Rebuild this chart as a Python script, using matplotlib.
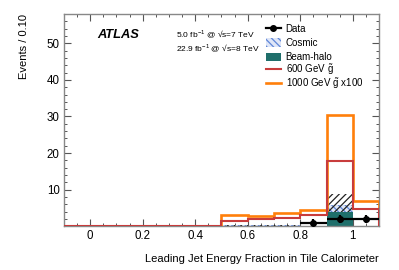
import numpy as np
import matplotlib
matplotlib.use("Agg")
import matplotlib.pyplot as plt
from matplotlib.ticker import MultipleLocator, FixedLocator
from matplotlib.patches import Patch
from matplotlib.lines import Line2D

plt.rcParams['font.family'] = ['Liberation Sans', 'DejaVu Sans']
plt.rcParams['hatch.linewidth'] = 0.9
plt.rcParams['mathtext.fontset'] = 'custom'
plt.rcParams['mathtext.rm'] = 'Liberation Sans'

edges = np.round(np.arange(-0.1, 1.1001, 0.1), 2)
gluino1000_x100 = [0, 0, 0, 0, 0, 0, 3.2, 2.7, 3.6, 4.5, 30.4, 7.0]
gluino600 = [0, 0, 0, 0, 0, 0, 1.4, 2.0, 2.3, 3.2, 17.7, 4.8]
beam_halo = [0, 0, 0, 0, 0, 0, 0.15, 0.15, 0.15, 0.0, 4.0, 0.0]
cosmic = [0, 0, 0, 0, 0, 0, 0.15, 0.15, 0.15, 0.0, 1.8, 0.0]
bkg_unc = [0, 0, 0, 0, 0, 0, 0.1, 0.1, 0.1, 0.0, 4.8, 0.0]
data_x = [0.85, 0.95, 1.05]
data_y = [1, 2, 2]
data_err = [1.0, 1.2, 1.2]

teal = '#1f6f6b'
red = '#c83c3c'
orange = '#ff7f0a'
blue = '#5f86d8'

fig = plt.figure(figsize=(3.99, 2.70), dpi=100)
ax = fig.add_axes([0.160, 0.162, 0.790, 0.786])

centers = (edges[:-1] + edges[1:]) / 2
w = 0.1
bh = np.array(beam_halo)
cs = np.array(cosmic)
ax.bar(centers, bh, width=w, color=teal, lw=0, zorder=2)
ax.bar(centers, cs, width=w, bottom=bh, facecolor='#dfe6f7', edgecolor=blue,
       hatch='\\\\\\\\\\', lw=0, zorder=2)
ax.bar(centers, bkg_unc, width=w, bottom=bh, facecolor='none', edgecolor='#222222',
       hatch='/////', lw=0, zorder=3)

ax.stairs(gluino1000_x100, edges, color=orange, lw=1.9, zorder=4)
ax.stairs(gluino600, edges, color=red, lw=1.5, zorder=5)

ax.errorbar(data_x, data_y, yerr=data_err, xerr=0.05, fmt='o', color='black',
            ms=4, lw=1.6, capsize=0, zorder=6)

ax.set_xlim(-0.1, 1.1)
ax.set_ylim(0, 58)
ax.xaxis.set_minor_locator(MultipleLocator(0.05))
ax.yaxis.set_major_locator(FixedLocator([10, 20, 30, 40, 50]))
ax.yaxis.set_minor_locator(MultipleLocator(2))
xt = [0, 0.2, 0.4, 0.6, 0.8, 1]
ax.set_xticks(xt)
ax.set_xticklabels(['0', '0.2', '0.4', '0.6', '0.8', '1'])
ax.tick_params(which='both', direction='in', top=True, right=True,
               labelsize=8.3, colors='black', pad=3)
ax.tick_params(which='major', length=5, width=0.8, color='#555555')
ax.tick_params(which='minor', length=2.5, width=0.7, color='#555555')
for s in ax.spines.values():
    s.set_color('#888888')
    s.set_linewidth(1.0)

ax.set_xlabel('Leading Jet Energy Fraction in Tile Calorimeter', fontsize=8,
              loc='right', labelpad=8)
ax.set_ylabel('Events / 0.10', fontsize=8, loc='top', labelpad=13)

ax.text(0.105, 0.885, 'ATLAS', transform=ax.transAxes, fontsize=9.3,
        fontweight='bold', fontstyle='italic')
ax.text(0.355, 0.89, '5.0 fb$^{-1}$ @ √s=7 TeV', transform=ax.transAxes, fontsize=6)
ax.text(0.355, 0.82, '22.9 fb$^{-1}$ @ √s=8 TeV', transform=ax.transAxes, fontsize=6)

leg_kw = dict(frameon=False, fontsize=7.0, handlelength=1.6, handletextpad=0.45,
              borderaxespad=0, borderpad=0)
handles1 = [Line2D([], [], color='black', lw=1.6, marker='o', ms=4),
            Patch(facecolor='#dfe6f7', edgecolor=blue, hatch='\\\\\\\\\\', lw=0),
            Patch(facecolor=teal, lw=0)]
labels1 = ['Data', 'Cosmic', 'Beam-halo']
leg1 = ax.legend(handles1, labels1, loc='upper left', handleheight=1.0,
                 bbox_to_anchor=(0.64, 0.955), labelspacing=0.45, **leg_kw)
ax.add_artist(leg1)
handles2 = [Line2D([], [], color=red, lw=1.5),
            Line2D([], [], color=orange, lw=1.9)]
labels2 = ['600 GeV $\\tilde{\\mathrm{g}}$', '1000 GeV $\\tilde{\\mathrm{g}}$ x100']
ax.legend(handles2, labels2, loc='upper left',
          bbox_to_anchor=(0.64, 0.775), labelspacing=-0.1, **leg_kw)

fig.savefig('out.png', dpi=100)
